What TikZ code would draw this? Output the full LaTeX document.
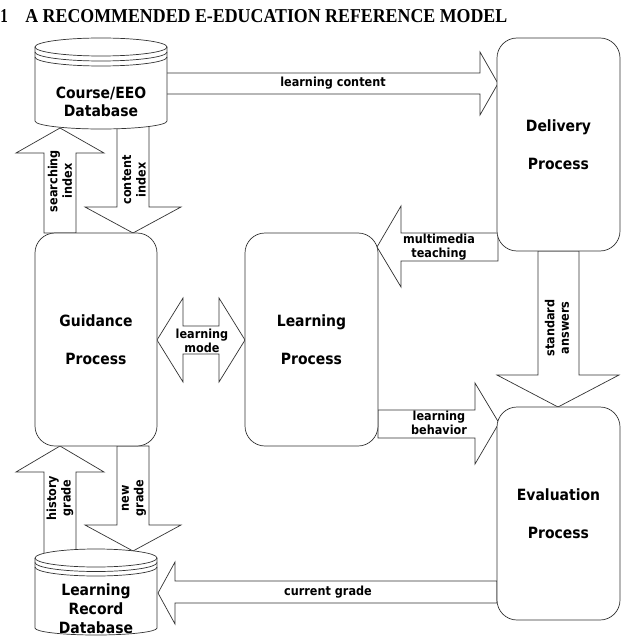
\documentclass[tikz,border=0pt]{standalone}
\usepackage{fontspec}
\usepackage{graphicx}
\setmainfont{Liberation Serif}
\newfontfamily\dvb{DejaVu Sans Bold}[FakeStretch=0.9]
\newcommand\boxfont{\dvb\fontsize{15.5}{38}\selectfont}
\newcommand\dbfont{\dvb\fontsize{15.5}{18}\selectfont}
\newcommand\lblfont{\dvb\fontsize{12.5}{14.5}\selectfont}
\begin{document}
\begin{tikzpicture}[x=1pt,y=-1pt,
  line width=0.7pt, draw=black!80,
  blk/.style={draw=black!80, fill=white, line join=miter},
  procbox/.style={draw=black!80, fill=white, rounded corners=20pt, align=center, font=\boxfont, inner sep=0},
  lbl/.style={font=\lblfont, align=center, inner sep=0},
  dbtext/.style={font=\dbfont, align=center, inner sep=0}]
\useasboundingbox (0,0) rectangle (624,639);

% title
\node[anchor=base west, inner sep=0] (num) at (0,23) {\resizebox{7.5pt}{13pt}{\bfseries 1}};
\node[anchor=base west, inner sep=0] (title) at (25,23) {\resizebox{482pt}{13pt}{\bfseries A RECOMMENDED E-EDUCATION REFERENCE MODEL}};

% block arrows
% learning content
\draw[blk] (160,73) -- (480,73) -- (480,52) -- (498,83.5) -- (480,115) -- (480,94) -- (160,94) -- cycle;
% multimedia teaching
\draw[blk] (498,233) -- (401,233) -- (401,206) -- (377,247) -- (401,287) -- (401,261) -- (498,261) -- cycle;
% learning behavior
\draw[blk] (378,410) -- (475,410) -- (475,383) -- (499,423) -- (475,464) -- (475,438) -- (378,438) -- cycle;
% learning mode
\draw[blk] (157,340) -- (183,298) -- (183,326) -- (219,326) -- (219,298) -- (245,340) -- (219,382) -- (219,354) -- (183,354) -- (183,382) -- cycle;
% standard answers
\draw[blk] (538,251) -- (538,375) -- (497,375) -- (558,407) -- (619,375) -- (579,375) -- (579,251) -- cycle;
% current grade
\draw[blk] (497,581) -- (175,581) -- (175,562) -- (158,593) -- (175,624) -- (175,603) -- (497,603) -- cycle;
% searching index
\draw[blk] (44,233) -- (44,153) -- (16,153) -- (60,128) -- (104,153) -- (76,153) -- (76,233) -- cycle;
% content index
\draw[blk] (117,120) -- (117,207) -- (85,207) -- (133,233) -- (181,207) -- (149,207) -- (149,120) -- cycle;
% history grade
\draw[blk] (44,555) -- (44,472) -- (16,472) -- (60,446) -- (104,472) -- (76,472) -- (76,555) -- cycle;
% new grade
\draw[blk] (117,446) -- (117,525) -- (85,525) -- (133,551) -- (181,525) -- (149,525) -- (149,446) -- cycle;

% process boxes
\node[procbox, minimum width=123pt, minimum height=213pt] (deliv) at (558.5,144.5) {Delivery\\Process};
\node[procbox, minimum width=123pt, minimum height=213pt] (eval) at (558.5,513.5) {Evaluation\\Process};
\node[procbox, minimum width=122pt, minimum height=213pt] (guid) at (96,339.5) {Guidance\\Process};
\node[procbox, minimum width=133pt, minimum height=213pt] (learn) at (311.5,339.5) {Learning\\Process};

% top database cylinder
\path[fill=white] (35,47) -- (35,121) arc (180:360:66pt and 8pt) -- (167,47) arc (0:180:66pt and 9pt) -- cycle;
\draw (35,47) -- (35,121) arc (180:360:66pt and 8pt) -- (167,47);
\draw (101,47) ellipse [x radius=66pt, y radius=9pt];
\draw (35,52) arc (180:360:66pt and 9pt);
\draw (35,57) arc (180:360:66pt and 9pt);
\node[dbtext] (cdb) at (101,101.5) {Course/EEO\\Database};

% bottom database cylinder
\path[fill=white] (35,558) -- (35,628) arc (180:360:61pt and 7pt) -- (157,558) arc (0:180:61pt and 9pt) -- cycle;
\draw (35,558) -- (35,628) arc (180:360:61pt and 7pt) -- (157,558);
\draw (96,558) ellipse [x radius=61pt, y radius=9pt];
\draw (35,562.5) arc (180:360:61pt and 9pt);
\draw (35,567) arc (180:360:61pt and 9pt);
\node[dbtext, font=\dvb\fontsize{15.5}{19}\selectfont] (ldb) at (96,609) {Learning\\Record\\Database};

% labels
\node[lbl] (lc) at (333,83) {learning content};
\node[lbl] (mt) at (439,247) {multimedia\\teaching};
\node[lbl] (lb) at (439,423) {learning\\behavior};
\node[lbl] (lm) at (202,341) {learning\\mode};
\node[lbl] (cg) at (328,592) {current grade};
\node[lbl, rotate=90] (si) at (60,181) {searching\\index};
\node[lbl, rotate=90] (ci) at (134,180) {content\\index};
\node[lbl, rotate=90] (hg) at (60,498) {history\\grade};
\node[lbl, rotate=90] (ng) at (134,498) {new\\grade};
\node[lbl, rotate=90] (sa) at (557,328) {standard\\answers};
\end{tikzpicture}
\end{document}
